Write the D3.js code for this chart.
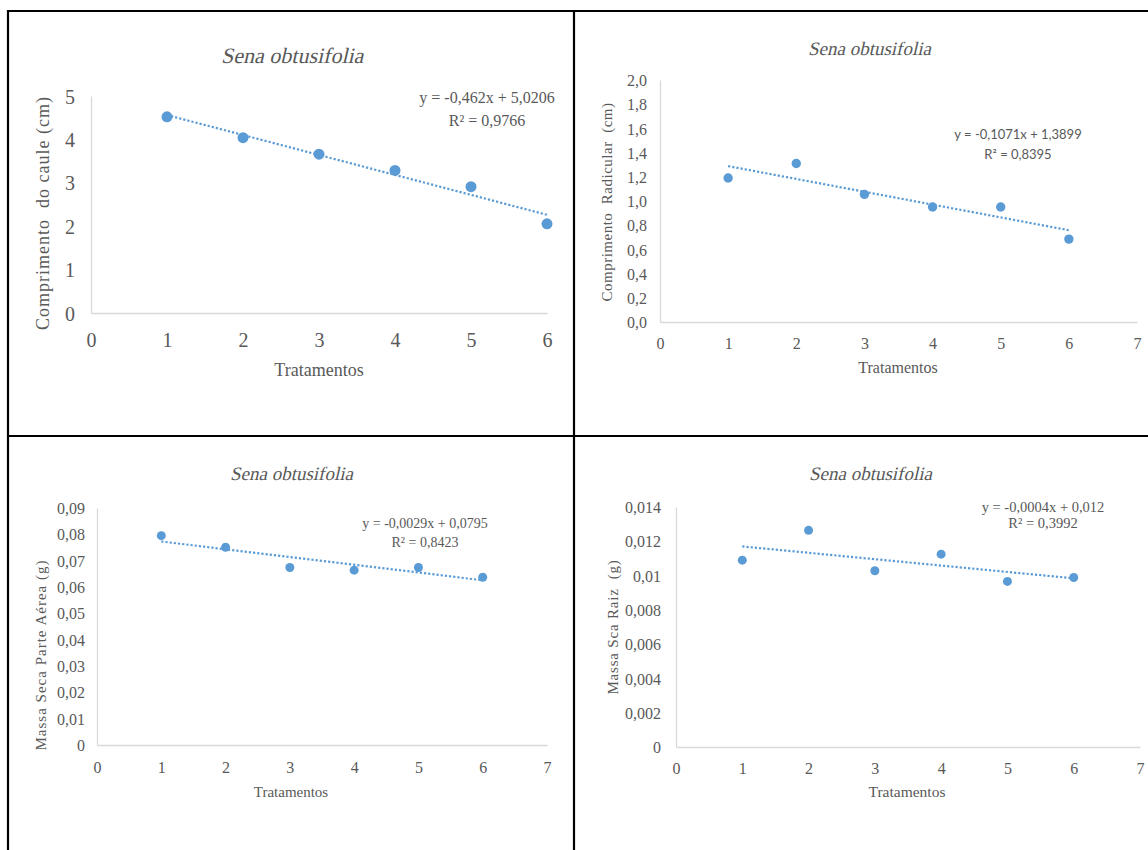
<!DOCTYPE html>
<html lang="pt">
<head>
<meta charset="UTF-8" />
<title>Sena obtusifolia</title>
<script src="https://cdn.jsdelivr.net/npm/d3@7"></script>
<style>
	body { margin: 0; background: #fff; }
</style>
</head>
<body>
<svg id="vis" width="1148" height="850"></svg>
<script>
	// Dados
	var tratamentos = [1, 2, 3, 4, 5, 6];

	var comprimentoCaule = [4.52, 4.04, 3.66, 3.285, 2.91, 2.055];
	var comprimentoRadicular = [1.19, 1.31, 1.055, 0.95, 0.95, 0.685];
	var massaSecaAerea = [0.0795, 0.0751, 0.0674, 0.0664, 0.0674, 0.0637];
	var massaSecaRaiz = [0.0109, 0.01264, 0.01028, 0.01125, 0.00966, 0.00989];

	// Ticks
	var xTicks6 = [0, 1, 2, 3, 4, 5, 6];
	var xTicks7 = [0, 1, 2, 3, 4, 5, 6, 7];
	var yTicksCaule = [0, 1, 2, 3, 4, 5];
	var yLabelsCaule = ["0", "1", "2", "3", "4", "5"];
	var yTicksRadicular = [0, 0.2, 0.4, 0.6, 0.8, 1.0, 1.2, 1.4, 1.6, 1.8, 2.0];
	var yLabelsRadicular = ["0,0", "0,2", "0,4", "0,6", "0,8", "1,0", "1,2", "1,4", "1,6", "1,8", "2,0"];
	var yTicksAerea = [0, 0.01, 0.02, 0.03, 0.04, 0.05, 0.06, 0.07, 0.08, 0.09];
	var yLabelsAerea = ["0", "0,01", "0,02", "0,03", "0,04", "0,05", "0,06", "0,07", "0,08", "0,09"];
	var yTicksRaiz = [0, 0.002, 0.004, 0.006, 0.008, 0.01, 0.012, 0.014];
	var yLabelsRaiz = ["0", "0,002", "0,004", "0,006", "0,008", "0,01", "0,012", "0,014"];

	// Equacoes das linhas de tendencia
	var equacoes = ["y = -0,462x + 5,0206", "y = -0,1071x + 1,3899", "y = -0,0029x + 0,0795", "y = -0,0004x + 0,012"];
	var r2 = ["R² = 0,9766", "R² = 0,8395", "R² = 0,8423", "R² = 0,3992"];

	var azul = "#5b9bd5";
	var cinza = "#595959";
	var serif = "'Liberation Serif', 'Times New Roman', Times, serif";
	var svg = d3.select("#vis");

	// regressao linear (minimos quadrados), como a tendencia do Excel
	function regressao(xs, ys) {
		var mx = d3.mean(xs), my = d3.mean(ys);
		var sxy = 0, sxx = 0;
		for (var i = 0; i < xs.length; i++) {
			sxy += (xs[i] - mx) * (ys[i] - my);
			sxx += (xs[i] - mx) * (xs[i] - mx);
		}
		var b = sxy / sxx;
		return { b: b, a: my - b * mx };
	}

	function texto(g, x, y, s, size, extra) {
		var t = g.append("text")
			.attr("x", x).attr("y", y)
			.attr("dy", "0.35em")
			.attr("text-anchor", "middle")
			.style("font-family", serif)
			.style("fill", cinza)
			.style("font-size", size + "px")
			.text(s);
		if (extra) extra(t);
		return t;
	}

	function painel(c) {
		var g = svg.append("g");
		var x = d3.scaleLinear().domain(c.xDom).range([c.x0, c.x1]);
		var y = d3.scaleLinear().domain(c.yDom).range([c.y0, c.y1]);

		// eixo X
		var gx = g.append("g").attr("transform", "translate(0," + c.y0 + ")")
			.call(d3.axisBottom(x).tickValues(c.xTicks).tickFormat(function (d) { return String(d); })
				.tickSize(0).tickSizeOuter(0));
		gx.attr("font-family", null).attr("font-size", null);
		gx.select(".domain").attr("stroke", "#d9d9d9").attr("stroke-width", 1.3);
		gx.selectAll(".tick text").attr("y", c.xTickOff).attr("dy", "0.35em")
			.style("font-family", serif).style("fill", cinza).style("font-size", c.tick + "px");

		// eixo Y
		var gy = g.append("g").attr("transform", "translate(" + c.x0 + ",0)")
			.call(d3.axisLeft(y).tickValues(c.yTicks).tickFormat(function (d, i) { return c.yLabels[i]; })
				.tickSize(0).tickSizeOuter(0).tickPadding(c.yTickOff));
		gy.attr("font-family", null).attr("font-size", null);
		gy.select(".domain").attr("stroke", "#d9d9d9").attr("stroke-width", 1.3);
		gy.selectAll(".tick text").attr("dy", "0.35em")
			.style("font-family", serif).style("fill", cinza).style("font-size", c.tick + "px");

		// titulo em italico (inclinado a mao, a fonte italica nao esta disponivel)
		texto(g, 0, 0, "Sena obtusifolia", c.tituloSize, function (t) {
			t.attr("transform", "translate(" + c.titulo[0] + "," + c.titulo[1] + ") skewX(-13)");
		});
		texto(g, c.xTitulo[0], c.xTitulo[1], "Tratamentos", c.xTituloSize);
		texto(g, 0, 0, c.yTexto, c.yTituloSize, function (t) {
			t.attr("transform", "translate(" + c.yTitulo[0] + "," + c.yTitulo[1] + ") rotate(-90)")
				.style("letter-spacing", c.yLs + "px")
				.style("white-space", "pre");
		});

		// linha de tendencia
		var r = regressao(tratamentos, c.dados);
		var linha = d3.line().x(function (d) { return x(d); }).y(function (d) { return y(r.a + r.b * d); });
		g.append("path")
			.attr("d", linha([d3.min(tratamentos), d3.max(tratamentos)]))
			.attr("fill", "none")
			.attr("stroke", azul)
			.attr("stroke-width", 2.2)
			.attr("stroke-dasharray", "2.2,2");

		// pontos
		g.selectAll("circle").data(c.dados).enter().append("circle")
			.attr("cx", function (d, i) { return x(tratamentos[i]); })
			.attr("cy", function (d) { return y(d); })
			.attr("r", c.raio)
			.attr("fill", azul);

		// equacao
		texto(g, c.eq[0], c.eq[1], equacoes[c.k], c.eqSize, function (t) { if (c.eqFont) t.style("font-family", c.eqFont); });
		texto(g, c.eq[0], c.eq[2], r2[c.k], c.eqSize, function (t) { if (c.eqFont) t.style("font-family", c.eqFont); });
	}

	// molduras
	var bordas = svg.append("g").attr("stroke", "#000").attr("stroke-width", 2.2);
	bordas.append("line").attr("x1", 8).attr("y1", 10).attr("x2", 8).attr("y2", 850);
	bordas.append("line").attr("x1", 7).attr("y1", 11).attr("x2", 1148).attr("y2", 11);
	bordas.append("line").attr("x1", 574).attr("y1", 10).attr("x2", 574).attr("y2", 850);
	bordas.append("line").attr("x1", 7).attr("y1", 436).attr("x2", 1148).attr("y2", 436);

	painel({
		k: 0, dados: comprimentoCaule,
		xDom: [0, 6], x0: 91, x1: 547, xTicks: xTicks6,
		yDom: [0, 5], y0: 313, y1: 96, yTicks: yTicksCaule, yLabels: yLabelsCaule,
		tick: 20, xTickOff: 27, yTickOff: 16,
		titulo: [294, 55], tituloSize: 22,
		xTitulo: [319, 370], xTituloSize: 18,
		yTitulo: [43, 213], yTituloSize: 18, yLs: 1, yTexto: "Comprimento  do caule (cm)",
		eq: [487, 97, 120], eqSize: 16,
		raio: 5.5
	});

	painel({
		k: 1, dados: comprimentoRadicular,
		xDom: [0, 7], x0: 660, x1: 1137, xTicks: xTicks7,
		yDom: [0, 2], y0: 322, y1: 80, yTicks: yTicksRadicular, yLabels: yLabelsRadicular,
		tick: 16, xTickOff: 21, yTickOff: 13,
		titulo: [871, 48], tituloSize: 19,
		xTitulo: [898, 367], xTituloSize: 16,
		yTitulo: [607, 202], yTituloSize: 15, yLs: 0.5, yTexto: "Comprimento  Radicular  (cm)",
		eq: [1018, 134, 154], eqSize: 13, eqFont: "Lato, 'Liberation Sans', sans-serif",
		raio: 4.7
	});

	painel({
		k: 2, dados: massaSecaAerea,
		xDom: [0, 7], x0: 97, x1: 547, xTicks: xTicks7,
		yDom: [0, 0.09], y0: 745, y1: 508, yTicks: yTicksAerea, yLabels: yLabelsAerea,
		tick: 16, xTickOff: 22, yTickOff: 12,
		titulo: [293, 473], tituloSize: 19,
		xTitulo: [291, 792], xTituloSize: 15,
		yTitulo: [41, 655], yTituloSize: 15, yLs: 1, yTexto: "Massa Seca Parte Aérea (g)",
		eq: [425, 523, 542], eqSize: 14,
		raio: 4.5
	});

	painel({
		k: 3, dados: massaSecaRaiz,
		xDom: [0, 7], x0: 676, x1: 1140, xTicks: xTicks7,
		yDom: [0, 0.014], y0: 747, y1: 507, yTicks: yTicksRaiz, yLabels: yLabelsRaiz,
		tick: 16, xTickOff: 21, yTickOff: 15,
		titulo: [872, 473], tituloSize: 19,
		xTitulo: [907, 792], xTituloSize: 15.5,
		yTitulo: [613, 627], yTituloSize: 15, yLs: 0.8, yTexto: "Massa Sca Raiz  (g)",
		eq: [1043, 507, 523], eqSize: 14.5,
		raio: 4.5
	});
</script>
</body>
</html>
